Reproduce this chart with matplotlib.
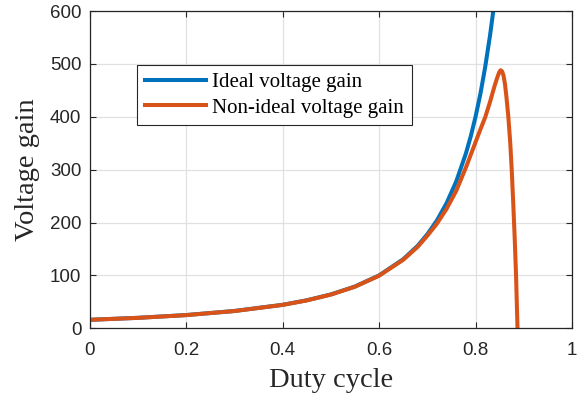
import matplotlib
matplotlib.use("Agg")
import matplotlib.pyplot as plt

# duty cycle points and gains
duty_ideal = [0, 0.1, 0.2, 0.3, 0.4, 0.45, 0.5, 0.55, 0.6, 0.65, 0.68, 0.7, 0.72,
              0.74, 0.76, 0.78, 0.79, 0.8, 0.81, 0.82, 0.83, 0.835, 0.84]
gain_ideal = [16, 19.8, 25, 32.7, 44.4, 52.9, 64, 79, 100, 130.6, 156, 177.8, 204,
              236.7, 277.8, 330.6, 362.8, 400, 443, 494, 553.6, 587.6, 625]

duty_real = [0, 0.1, 0.2, 0.3, 0.4, 0.45, 0.5, 0.55, 0.6, 0.65, 0.68, 0.7, 0.72,
             0.74, 0.76, 0.78, 0.8, 0.81, 0.82, 0.83, 0.84, 0.845, 0.849,
             0.852, 0.855, 0.858, 0.861, 0.864, 0.868, 0.872, 0.875, 0.878,
             0.881, 0.884, 0.887]
gain_real = [16, 19.7, 24.9, 32.6, 44.2, 52.7, 63.7, 78.6, 99.4, 129.5, 154, 175, 198,
             226, 260, 304, 352, 376, 399, 428, 460, 474, 484,
             488, 486, 478, 462, 438, 400, 350, 300, 240,
             175, 100, 0]

x_ticks = [0, 0.2, 0.4, 0.6, 0.8, 1]
x_tick_labels = ["0", "0.2", "0.4", "0.6", "0.8", "1"]
y_ticks = [0, 100, 200, 300, 400, 500, 600]

dark = "#262626"

fig = plt.figure(figsize=(5.8, 3.96), dpi=100)
ax = fig.add_axes([0.1547, 0.171, 0.8315, 0.8012])

ax.plot(duty_ideal, gain_ideal, color="#0072BD", lw=2.9, label="Ideal voltage gain")
ax.plot(duty_real, gain_real, color="#D95319", lw=2.9, label="Non-ideal voltage gain")

ax.set_xlim(0, 1)
ax.set_ylim(0, 600)
ax.set_xticks(x_ticks)
ax.set_xticklabels(x_tick_labels)
ax.set_yticks(y_ticks)
ax.grid(True, color="#e1e1e1", lw=0.9)
ax.set_axisbelow(True)

ax.tick_params(direction="in", top=True, right=True, length=4, width=0.8,
               colors=dark, labelsize=13.5)
ax.tick_params(axis="x", pad=10)
ax.tick_params(axis="y", pad=6)
for lab in ax.get_xticklabels() + ax.get_yticklabels():
    lab.set_family("Liberation Sans")
for sp in ax.spines.values():
    sp.set_color(dark)
    sp.set_linewidth(0.9)

ax.set_xlabel("Duty cycle", family="Liberation Serif", fontsize=20.5, color=dark, labelpad=6)
ax.set_ylabel("Voltage gain", family="Liberation Serif", fontsize=20.5, color=dark, labelpad=7)

leg = ax.legend(loc="upper left", bbox_to_anchor=(0.099, 0.83),
                prop={"family": "Liberation Serif", "size": 15},
                handlelength=2.95, handletextpad=0.3, labelspacing=0.3,
                borderpad=0.35, borderaxespad=0, fancybox=False, framealpha=1)
leg.get_frame().set_edgecolor(dark)
leg.get_frame().set_linewidth(0.8)

fig.savefig("out.png", dpi=100)
